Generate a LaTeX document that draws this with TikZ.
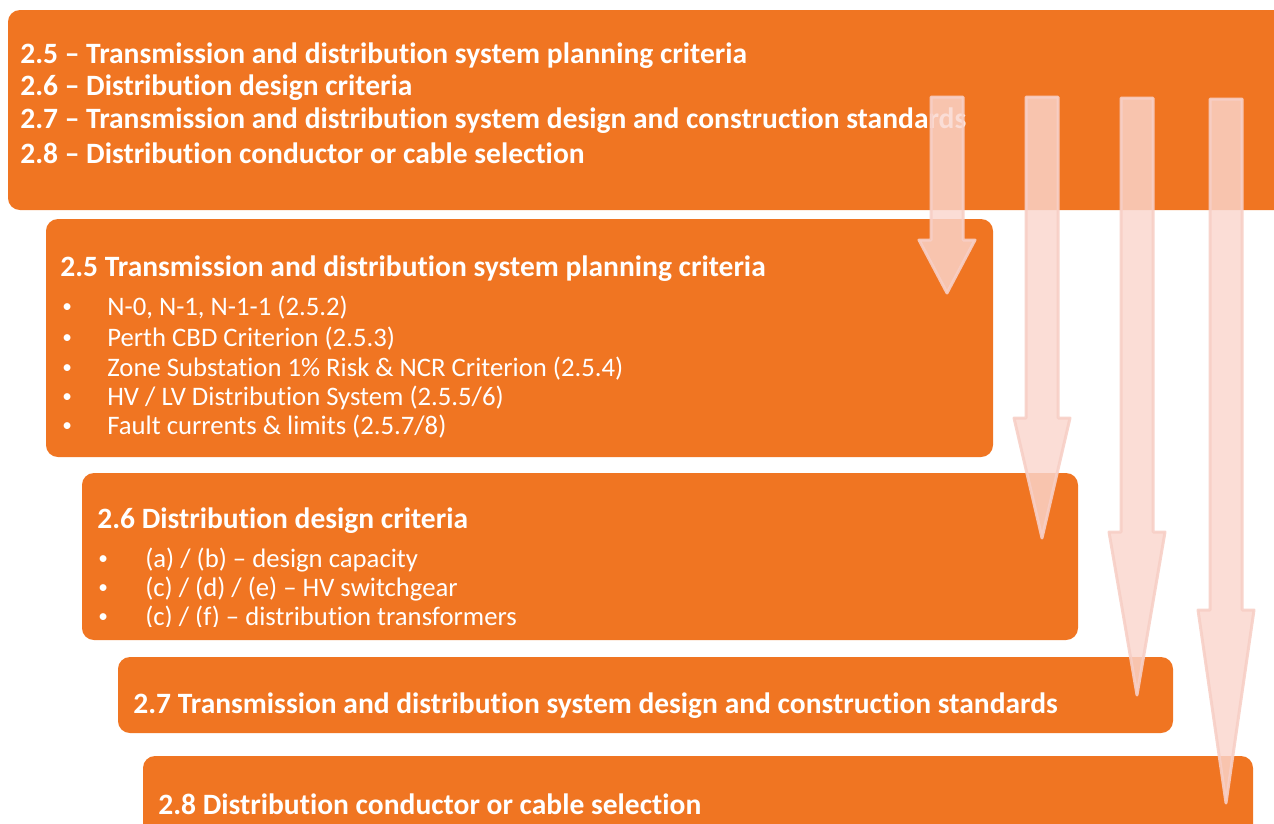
\documentclass[tikz,border=0pt]{standalone}
\usepackage{fontspec}
\setmainfont[Ligatures = NoCommon]{Carlito}
\definecolor{boxorange}{HTML}{F07522}
\definecolor{arrowpink}{HTML}{FAD6CD}
\definecolor{arrowedge}{HTML}{F7CFC6}
\begin{document}
\begin{tikzpicture}[x = 0.02cm, y = -0.02cm,
		box/.style = {fill = boxorange, rounded corners = 6.8pt},
		head/.style = {anchor = west, text = white, inner sep = 0pt, font = \fontsize{16.8}{19}\selectfont\bfseries},
		item/.style = {anchor = west, text = white, inner sep = 0pt, font = \fontsize{15.2}{17}\selectfont},
		dot/.style = {anchor = west, text = white, inner sep = 0pt, font = \fontsize{11}{13}\selectfont},
		flow/.style = {fill = arrowpink, fill opacity = 0.82, draw = arrowedge, draw opacity = 0.9, line width = 1.7pt, line join = round}]
	\useasboundingbox (0, 0) rectangle (1274, 823);
	\clip (0, 0) rectangle (1274, 823);
	%Boxes
	\fill[box] (8, 10) rectangle (1300, 210);
	\fill[box] (46, 219) rectangle (993, 457);
	\fill[box] (82, 473) rectangle (1078, 640);
	\fill[box] (118, 657) rectangle (1173, 733);
	\fill[box] (143, 756) rectangle (1253, 850);
	%Overview
	\node[head] (o25) at (20, 56) {2.5 – Transmission and distribution system planning criteria};
	\node[head] (o26) at (20, 88) {2.6 – Distribution design criteria};
	\node[head] (o27) at (20, 121) {2.7 – Transmission and distribution system design and construction standards};
	\node[head] (o28) at (20, 153) {2.8 – Distribution conductor or cable selection};
	%2.5
	\node[head] (t25) at (60, 269) {2.5 Transmission and distribution system planning criteria};
	\foreach \y/\txt [count = \i] in {308/{N-0, N-1, N-1-1 (2.5.2)}, 339/{Perth CBD Criterion (2.5.3)}, 369/{Zone Substation 1\% Risk \& NCR Criterion (2.5.4)}, 398/{HV / LV Distribution System (2.5.5/6)}, 427/{Fault currents \& limits (2.5.7/8)}}
	{
		\node[dot] (d25\i) at (62, \y) {•};
		\node[item] (i25\i) at (107, \y) {\txt};
	}
	%2.6
	\node[head] (t26) at (97, 521) {2.6 Distribution design criteria};
	\begin{scope}
		\clip (82, 473) rectangle (1078, 626);
		\foreach \y/\txt [count = \i] in {560/{(a) / (b) – design capacity}, 589/{(c) / (d) / (e) – HV switchgear}, 618/{(c) / (f) – distribution transformers}}
		{
			\node[dot] (d26\i) at (98, \y) {•};
			\node[item] (i26\i) at (145, \y) {\txt};
		}
	\end{scope}
	%2.7
	\node[head] (t27) at (133, 706) {2.7 Transmission and distribution system design and construction standards};
	%2.8
	\node[head] (t28) at (158, 804) {2.8 Distribution conductor or cable selection};
	%Arrows
	\foreach \cx/\top/\hs/\tip in {947/97/240/293, 1042/97/418/538, 1137/98/532/695, 1226/99/610/803}
		\filldraw[flow] (\cx - 16, \top) -- (\cx + 16, \top) -- (\cx + 16, \hs) -- (\cx + 28, \hs) -- (\cx, \tip) -- (\cx - 28, \hs) -- (\cx - 16, \hs) -- cycle;
\end{tikzpicture}
\end{document}
